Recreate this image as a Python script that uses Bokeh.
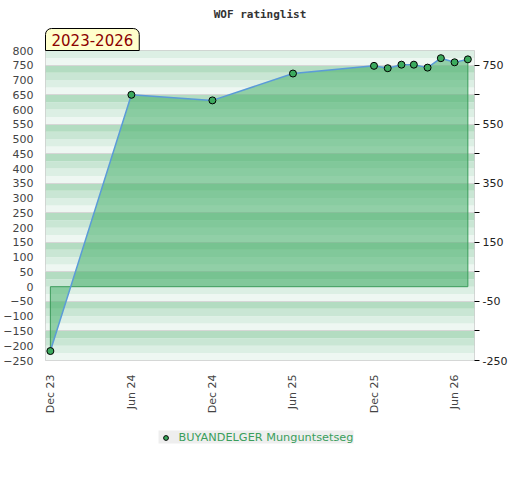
import numpy as np
import pandas as pd
from bokeh.plotting import figure
from bokeh.layouts import column
from bokeh.models import (Legend, LegendItem, FixedTicker, LinearAxis, Grid, Title,
                          DatetimeTickFormatter, Range1d, BoxAnnotation)
from bokeh.embed import file_html
from bokeh.resources import INLINE

# ---- data ----
dates = ["2023-12-01", "2024-06-01", "2024-12-01", "2025-06-01", "2025-12-01",
         "2026-01-01", "2026-02-01", "2026-03-01", "2026-04-01", "2026-05-01",
         "2026-06-01", "2026-07-01"]
ratings = [-218, 650, 631, 722, 748, 740, 752, 752, 742, 774, 760, 770]
player = "BUYANDELGER Munguntsetseg"
period_label = "2023-2026"
x_tick_dates = ["2023-12-01", "2024-06-01", "2024-12-01", "2025-06-01", "2025-12-01", "2026-06-01"]
left_ticks = list(range(-250, 801, 50))
right_ticks = list(range(-250, 751, 100))
right_labelled = [750, 550, 350, 150, -50, -250]

x = pd.to_datetime(dates)
tick_ms = [pd.Timestamp(d).value / 1e6 for d in x_tick_dates]

p = figure(x_axis_type="datetime", output_backend="svg", toolbar_location=None,
           frame_width=429, frame_height=310,
           x_range=Range1d(pd.Timestamp("2023-11-20"), pd.Timestamp("2026-07-16")),
           y_range=Range1d(-250, 800),
           min_border_left=38, min_border_right=37, min_border_top=50, min_border_bottom=55)
p.background_fill_color = "white"
p.border_fill_color = "white"
p.outline_line_color = "#cccccc"

# title
p.title.text = "WOF ratinglist"
p.title.align = "center"
p.title.text_font = "DejaVu Sans Mono"
p.title.text_font_size = "11px"
p.title.text_font_style = "bold"
p.title.text_color = "#333333"
p.title.standoff = 11

# period label box
p.add_layout(Title(text=period_label, align="left", text_font="DejaVu Sans", text_font_size="15px",
                   text_font_style="normal", text_color="#8b0000",
                   background_fill_color="#ffffcc", border_line_color="black", border_line_width=1,
                   padding=(6, 5), border_radius=(6, 6, 0, 0), standoff=0), "above")

# striped background
band_colors = ["#b3dcc1", "#eef7f2", "#dcefe4", "#c9e6d4"]
for b in range(-250, 800, 25):
    k = ((b - 725) // 25) % 4
    p.add_layout(BoxAnnotation(bottom=b, top=b + 25, fill_color=band_colors[k], fill_alpha=1,
                               line_color=None, level="image"))

p.xgrid.visible = False
p.ygrid.visible = False
p.add_layout(Grid(dimension=1, ticker=FixedTicker(ticks=right_ticks), grid_line_color="#d6d6d6",
                  grid_line_width=1, level="underlay"))

# area + line + markers
p.varea(x=x, y1=0, y2=ratings, fill_color="#46af69", fill_alpha=0.55)
p.line(x=[x[0], x[0], x[-1], x[-1]], y=[ratings[0], 0, 0, ratings[-1]], line_color="#3a9a5a", line_width=1)
p.line(x=x, y=ratings, line_color="#5b9bd8", line_width=1.5)
marker_style = dict(size=7, fill_color="#3caa5e", line_color="black", line_width=1)
p.scatter(x=x, y=ratings, **marker_style)

# axes
p.xaxis.ticker = FixedTicker(ticks=tick_ms)
fmt = "%b %y"
p.xaxis.formatter = DatetimeTickFormatter(milliseconds=fmt, seconds=fmt, minsec=fmt, minutes=fmt,
                                          hourmin=fmt, hours=fmt, days=fmt, months=fmt, years=fmt)
p.xaxis.major_label_orientation = np.pi / 2
p.xaxis.major_label_standoff = 8
for ax in (p.xaxis[0], p.yaxis[0]):
    ax.axis_line_color = None
    ax.major_tick_line_color = None
    ax.minor_tick_line_color = None
    ax.major_label_text_font = "DejaVu Sans"
    ax.major_label_text_font_size = "11px"
    ax.major_label_text_color = "#444444"
p.yaxis.ticker = FixedTicker(ticks=left_ticks)
p.yaxis.major_label_standoff = 6

overrides = {t: ("" if t not in right_labelled else str(t)) for t in right_ticks}
rax = LinearAxis(ticker=FixedTicker(ticks=right_ticks), major_label_overrides=overrides,
                 axis_line_color=None, major_tick_line_color="black", major_tick_out=5,
                 major_tick_in=0, minor_tick_line_color=None, major_label_standoff=3,
                 major_label_text_font="DejaVu Sans", major_label_text_font_size="11px",
                 major_label_text_color="#222222")
p.add_layout(rax, "right")

# legend in a small strip below (its marker renderer lies outside this strip's ranges)
p2 = figure(width=504, height=42, output_backend="svg", toolbar_location=None,
            x_axis_location=None, y_axis_location=None, min_border=0,
            x_range=Range1d(0, 1), y_range=Range1d(0, 1))
p2.outline_line_color = None
p2.xgrid.visible = False
p2.ygrid.visible = False
proxy = p2.scatter(x=x, y=ratings, **marker_style)
legend = Legend(items=[LegendItem(label=player, renderers=[proxy])], location="center",
                orientation="horizontal", background_fill_color="#eeeeee", background_fill_alpha=1,
                border_line_color=None, label_text_color="#3a9e5c", label_text_font="DejaVu Sans",
                label_text_font_size="11.3px", glyph_width=14, glyph_height=12, label_height=12,
                padding=4, margin=0, label_standoff=6)
p2.add_layout(legend, "center")

open("out.html", "w").write(file_html(column(p, p2, spacing=0), INLINE))
